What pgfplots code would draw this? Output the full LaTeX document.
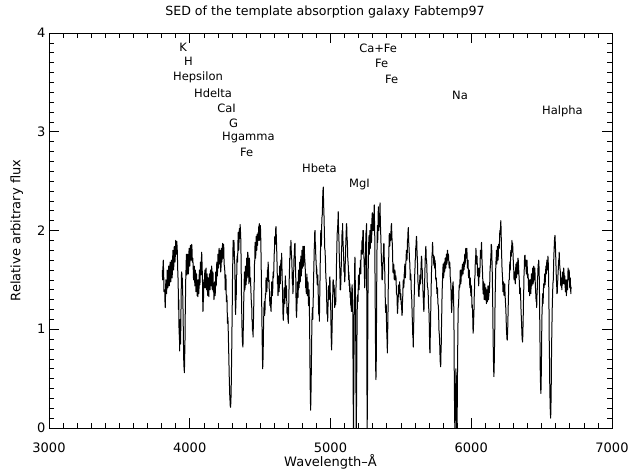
\documentclass[border=0pt]{standalone}
\usepackage{fontspec}
\setmainfont{DejaVu Sans}
\usepackage{pgfplots}
\usepackage{pgfplotstable}
\pgfplotsset{compat=1.18}

% Template absorption galaxy spectrum: wavelength (Angstrom), relative flux
\pgfplotstableread{
lam flux
3805 1.60
3807 1.50
3810 1.64
3812 1.70
3815 1.55
3817 1.38
3820 1.40
3822 1.40
3824 1.28
3826 1.22
3828 1.35
3830 1.50
3833 1.48
3835 1.36
3838 1.44
3840 1.60
3843 1.55
3845 1.42
3848 1.50
3850 1.64
3853 1.58
3855 1.44
3858 1.53
3860 1.68
3863 1.60
3865 1.48
3868 1.56
3870 1.70
3873 1.62
3875 1.52
3878 1.66
3880 1.80
3883 1.72
3885 1.60
3888 1.68
3890 1.84
3893 1.80
3895 1.68
3898 1.76
3900 1.90
3903 1.85
3905 1.76
3908 1.89
3910 1.84
3912 1.78
3914 1.62
3916 1.55
3918 1.45
3920 1.20
3922 1.30
3924 0.95
3926 1.05
3928 0.78
3930 0.95
3932 1.10
3934 0.98
3935 0.85
3937 1.10
3939 1.35
3941 1.55
3943 1.58
3945 1.44
3947 1.52
3949 1.42
3951 1.30
3953 1.12
3955 0.90
3957 0.70
3959 0.62
3962 0.56
3964 0.72
3966 0.85
3968 1.15
3970 1.35
3972 1.55
3974 1.62
3976 1.76
3978 1.68
3980 1.55
3983 1.60
3985 1.76
3988 1.70
3990 1.56
3993 1.65
3995 1.82
3998 1.76
4000 1.64
4003 1.72
4005 1.85
4008 1.80
4010 1.70
4012 1.77
4014 1.86
4016 1.81
4018 1.68
4020 1.70
4022 1.72
4025 1.60
4027 1.50
4030 1.52
4032 1.64
4034 1.58
4036 1.44
4038 1.45
4040 1.60
4042 1.55
4044 1.38
4046 1.40
4048 1.56
4050 1.50
4052 1.34
4054 1.36
4056 1.42
4058 1.33
4060 1.50
4062 1.46
4064 1.36
4066 1.42
4068 1.60
4070 1.58
4072 1.45
4074 1.50
4076 1.68
4078 1.66
4080 1.55
4082 1.60
4084 1.78
4086 1.75
4088 1.62
4090 1.55
4092 1.30
4094 1.18
4096 1.28
4098 1.32
4100 1.50
4102 1.48
4104 1.42
4106 1.56
4108 1.60
4110 1.48
4112 1.42
4114 1.60
4116 1.62
4118 1.44
4120 1.40
4122 1.54
4124 1.56
4126 1.38
4128 1.34
4130 1.50
4132 1.52
4134 1.36
4136 1.33
4138 1.50
4140 1.56
4142 1.42
4144 1.40
4146 1.57
4148 1.60
4150 1.46
4152 1.44
4154 1.60
4156 1.64
4158 1.52
4160 1.40
4162 1.44
4164 1.58
4166 1.56
4168 1.38
4170 1.40
4172 1.30
4174 1.33
4176 1.48
4178 1.46
4180 1.34
4182 1.38
4184 1.58
4186 1.55
4188 1.44
4190 1.50
4192 1.68
4194 1.66
4196 1.54
4198 1.60
4200 1.76
4202 1.74
4204 1.62
4206 1.66
4208 1.82
4210 1.78
4212 1.66
4214 1.70
4216 1.80
4218 1.74
4220 1.58
4222 1.62
4224 1.82
4226 1.80
4228 1.68
4230 1.72
4232 1.84
4234 1.87
4236 1.72
4238 1.76
4240 1.86
4242 1.82
4244 1.66
4246 1.64
4248 1.62
4250 1.55
4252 1.40
4254 1.42
4256 1.55
4258 1.50
4260 1.28
4262 1.30
4264 1.34
4266 1.20
4268 1.06
4270 1.12
4272 1.08
4274 0.95
4276 0.82
4278 0.70
4280 0.55
4282 0.45
4284 0.34
4286 0.28
4288 0.22
4290 0.21
4292 0.26
4294 0.35
4296 0.55
4298 0.75
4300 1.00
4302 1.25
4304 1.55
4306 1.70
4308 1.90
4310 1.85
4312 1.74
4314 1.90
4316 1.80
4318 1.70
4320 1.66
4322 1.45
4324 1.20
4326 1.15
4328 1.30
4330 1.30
4332 1.55
4334 1.55
4336 1.74
4338 1.72
4340 1.68
4342 1.85
4344 1.98
4346 1.95
4348 1.80
4350 1.88
4352 2.02
4354 2.00
4356 1.92
4358 2.06
4360 2.00
4362 1.95
4364 1.78
4366 1.55
4368 1.30
4370 1.10
4372 0.96
4374 0.88
4376 0.84
4378 0.82
4380 0.98
4382 1.10
4384 1.32
4386 1.40
4388 1.58
4390 1.55
4392 1.40
4394 1.46
4396 1.64
4398 1.62
4400 1.45
4402 1.50
4404 1.72
4406 1.70
4408 1.52
4410 1.58
4412 1.78
4414 1.75
4416 1.56
4418 1.62
4420 1.46
4422 1.55
4424 1.72
4426 1.66
4428 1.48
4430 1.48
4432 1.52
4434 1.40
4436 1.34
4438 1.25
4440 1.26
4442 1.10
4444 1.08
4446 0.98
4448 1.00
4450 0.92
4452 1.06
4454 1.15
4456 1.38
4458 1.45
4460 1.66
4462 1.70
4464 1.88
4466 1.85
4468 1.72
4470 1.78
4472 1.94
4474 1.88
4476 1.80
4478 1.96
4480 1.88
4482 1.85
4484 1.96
4486 1.98
4488 1.90
4490 2.04
4492 1.96
4494 2.07
4496 1.90
4498 1.92
4500 2.04
4502 2.05
4504 1.96
4506 1.80
4508 1.60
4510 1.40
4512 1.18
4514 0.95
4516 0.75
4518 0.60
4520 0.66
4522 0.80
4524 1.00
4526 1.15
4528 1.24
4530 1.28
4532 1.14
4535 1.20
4537 1.36
4540 1.35
4542 1.52
4545 1.50
4547 1.38
4550 1.44
4552 1.60
4555 1.58
4557 1.68
4559 1.62
4561 1.48
4563 1.50
4565 1.40
4567 1.38
4569 1.24
4571 1.30
4573 1.32
4576 1.20
4578 1.18
4580 1.32
4582 1.48
4585 1.48
4587 1.34
4590 1.42
4592 1.58
4594 1.52
4596 1.54
4598 1.65
4600 1.76
4602 1.80
4604 1.94
4606 1.92
4608 1.86
4610 1.98
4611 2.02
4613 2.04
4615 1.94
4617 1.85
4619 1.74
4621 1.62
4623 1.46
4625 1.48
4627 1.34
4629 1.40
4631 1.54
4633 1.52
4635 1.38
4637 1.46
4639 1.64
4641 1.60
4643 1.46
4645 1.55
4647 1.70
4649 1.70
4651 1.60
4653 1.77
4655 1.64
4657 1.50
4659 1.40
4661 1.25
4663 1.12
4665 1.09
4667 1.20
4669 1.25
4671 1.42
4673 1.40
4675 1.26
4677 1.35
4679 1.54
4681 1.48
4683 1.32
4685 1.40
4687 1.44
4689 1.30
4691 1.16
4693 1.18
4695 1.22
4697 1.10
4699 1.14
4700 1.06
4702 1.18
4704 1.30
4706 1.48
4708 1.55
4710 1.72
4712 1.70
4714 1.84
4716 1.82
4718 1.80
4719 1.90
4721 1.80
4723 1.75
4725 1.70
4727 1.60
4729 1.46
4731 1.50
4733 1.36
4735 1.42
4737 1.58
4739 1.60
4741 1.74
4743 1.75
4745 1.86
4748 1.87
4750 1.70
4752 1.60
4754 1.46
4755 1.30
4757 1.16
4759 1.12
4761 1.22
4763 1.30
4765 1.48
4767 1.45
4769 1.32
4771 1.40
4773 1.60
4775 1.55
4777 1.42
4779 1.50
4781 1.68
4783 1.63
4785 1.48
4787 1.56
4789 1.74
4791 1.68
4793 1.54
4795 1.62
4797 1.80
4799 1.74
4801 1.62
4802 1.70
4804 1.84
4806 1.78
4808 1.64
4810 1.72
4812 1.84
4814 1.84
4816 1.72
4818 1.70
4820 1.64
4822 1.55
4824 1.42
4826 1.48
4828 1.36
4830 1.44
4832 1.56
4834 1.50
4836 1.34
4838 1.40
4840 1.48
4842 1.36
4844 1.24
4846 1.30
4848 1.40
4849 1.33
4852 1.00
4855 0.50
4857 0.30
4859 0.18
4862 0.40
4864 0.62
4866 0.85
4868 1.08
4870 1.15
4872 1.22
4874 1.10
4876 1.24
4878 1.35
4880 1.54
4882 1.62
4884 1.80
4886 1.85
4888 1.98
4890 2.00
4892 1.86
4894 1.85
4896 1.70
4898 1.70
4900 1.56
4902 1.63
4904 1.52
4906 1.45
4908 1.48
4910 1.55
4912 1.40
4914 1.30
4916 1.16
4918 1.15
4920 1.14
4921 1.08
4923 1.28
4925 1.45
4927 1.66
4929 1.80
4930 1.96
4932 2.00
4934 1.84
4936 1.90
4938 2.08
4940 2.15
4942 2.16
4944 2.30
4946 2.40
4949 2.44
4951 2.26
4953 2.20
4955 2.08
4957 1.95
4959 1.82
4961 1.80
4963 1.74
4965 1.65
4967 1.52
4969 1.50
4971 1.44
4973 1.30
4975 1.16
4977 1.15
4979 1.14
4980 1.08
4982 1.22
4984 1.30
4986 1.44
4988 1.42
4990 1.30
4992 1.38
4994 1.52
4996 1.53
4998 1.38
5000 1.30
5002 1.18
5004 1.00
5006 0.86
5008 0.79
5010 0.92
5012 1.05
5014 1.26
5016 1.35
5018 1.50
5020 1.50
5022 1.38
5024 1.45
5026 1.44
5028 1.35
5030 1.22
5032 1.30
5034 1.26
5037 1.25
5039 1.42
5041 1.50
5043 1.70
5045 1.80
5047 1.96
5049 2.00
5051 2.00
5052 2.10
5054 2.12
5055 2.19
5057 2.02
5059 1.95
5061 1.86
5063 1.70
5065 1.66
5067 1.55
5069 1.40
5072 1.40
5074 1.52
5076 1.60
5078 1.78
5080 1.85
5082 1.98
5083 2.00
5085 1.98
5086 2.07
5088 1.92
5090 1.85
5092 1.80
5094 1.70
5096 1.58
5099 1.60
5101 1.48
5103 1.53
5105 1.68
5107 1.75
5109 1.90
5111 1.95
5113 2.06
5115 2.07
5117 1.94
5119 1.90
5121 1.82
5123 1.70
5125 1.68
5127 1.62
5129 1.50
5131 1.58
5133 1.44
5134 1.50
5136 1.38
5138 1.46
5140 1.32
5142 1.38
5144 1.24
5146 1.30
5148 1.18
5150 1.26
5152 1.42
5154 1.45
5156 1.32
5158 1.20
5161 0.40
5163 -0.10
5166 0.50
5168 1.00
5170 1.40
5172 1.66
5174 1.73
5176 1.48
5178 1.30
5181 0.40
5183 -0.10
5186 0.45
5188 0.90
5190 1.20
5192 1.34
5194 1.35
5196 1.28
5197 1.40
5199 1.54
5201 1.55
5203 1.40
5205 1.48
5207 1.62
5209 1.60
5211 1.58
5213 1.70
5215 1.56
5216 1.65
5218 1.80
5220 1.80
5222 1.78
5224 1.90
5226 1.76
5228 1.85
5230 2.00
5233 2.00
5235 1.82
5237 1.75
5239 1.68
5241 1.55
5243 1.42
5245 1.50
5247 1.66
5249 1.75
5251 1.94
5253 2.00
5255 2.00
5256 2.07
5258 1.20
5260 -0.10
5263 0.40
5266 1.30
5268 1.60
5270 1.75
5272 1.90
5274 1.95
5276 1.76
5278 1.85
5280 2.00
5281 2.00
5283 1.82
5285 1.90
5287 2.06
5289 2.05
5291 1.88
5293 1.95
5295 2.14
5297 2.18
5299 2.02
5301 2.00
5303 2.16
5305 2.15
5307 2.00
5308 2.10
5310 2.24
5311 2.26
5313 2.06
5315 1.90
5316 1.60
5318 1.20
5320 0.80
5321 0.60
5323 0.49
5325 0.66
5326 0.90
5328 1.30
5329 1.60
5331 1.90
5333 2.05
5335 1.88
5337 1.95
5339 2.18
5340 2.24
5342 2.06
5344 2.00
5346 2.10
5348 2.15
5350 2.18
5352 2.28
5354 2.10
5356 2.00
5358 1.92
5360 1.80
5362 1.68
5364 1.65
5366 1.50
5368 1.50
5370 1.58
5372 1.62
5374 1.74
5376 1.75
5378 1.86
5380 1.87
5382 1.72
5384 1.65
5386 1.56
5388 1.40
5390 1.24
5392 1.17
5394 1.24
5396 1.25
5398 1.06
5400 0.95
5402 0.88
5404 0.76
5406 0.94
5408 1.10
5410 1.38
5412 1.55
5414 1.74
5415 1.80
5417 1.94
5418 1.97
5420 1.84
5422 1.85
5424 1.96
5426 1.95
5428 1.90
5430 2.00
5432 2.06
5434 2.07
5436 1.94
5438 1.90
5440 1.84
5442 1.70
5444 1.58
5446 1.57
5448 1.66
5450 1.65
5452 1.52
5454 1.50
5456 1.60
5458 1.60
5460 1.50
5463 1.53
5465 1.54
5467 1.45
5469 1.36
5471 1.35
5473 1.34
5474 1.25
5476 1.16
5477 1.17
5479 1.26
5481 1.30
5483 1.44
5485 1.45
5487 1.36
5489 1.38
5491 1.48
5494 1.40
5496 1.30
5498 1.32
5500 1.36
5502 1.25
5504 1.28
5506 1.20
5508 1.14
5510 1.17
5512 1.30
5514 1.35
5516 1.48
5518 1.50
5520 1.42
5522 1.45
5524 1.56
5526 1.58
5528 1.66
5529 1.63
5531 1.52
5533 1.55
5535 1.68
5537 1.70
5539 1.80
5541 1.80
5543 1.70
5545 1.75
5547 1.90
5549 1.92
5551 2.00
5553 2.03
5555 1.90
5557 1.85
5559 1.80
5561 1.70
5563 1.68
5565 1.60
5566 1.50
5568 1.52
5570 1.56
5572 1.50
5574 1.38
5576 1.35
5578 1.28
5580 1.15
5582 1.08
5584 0.95
5586 0.92
5588 0.82
5590 0.98
5592 1.10
5594 1.30
5596 1.40
5598 1.54
5600 1.60
5602 1.70
5604 1.72
5606 1.84
5608 1.85
5610 1.94
5612 1.94
5614 1.82
5616 1.75
5618 1.68
5620 1.55
5622 1.46
5624 1.45
5626 1.34
5629 1.33
5631 1.42
5633 1.45
5635 1.54
5637 1.55
5639 1.46
5641 1.50
5643 1.62
5644 1.65
5646 1.74
5648 1.73
5650 1.62
5652 1.60
5654 1.48
5656 1.45
5658 1.34
5660 1.30
5662 1.20
5664 1.18
5666 1.32
5668 1.40
5670 1.54
5671 1.60
5673 1.72
5675 1.75
5677 1.84
5678 1.84
5680 1.72
5682 1.70
5684 1.66
5686 1.55
5688 1.44
5690 1.42
5692 1.42
5695 1.33
5697 1.22
5699 1.20
5701 1.12
5703 0.95
5705 0.80
5707 0.76
5709 0.94
5711 1.05
5713 1.26
5715 1.40
5717 1.56
5719 1.62
5721 1.74
5723 1.78
5725 1.88
5726 1.87
5728 1.76
5730 1.75
5732 1.72
5734 1.65
5736 1.74
5738 1.72
5740 1.62
5742 1.70
5744 1.68
5746 1.60
5748 1.50
5750 1.50
5752 1.52
5754 1.45
5756 1.36
5758 1.40
5760 1.42
5761 1.37
5763 1.26
5765 1.25
5767 1.22
5769 1.10
5771 0.98
5773 0.95
5775 0.90
5777 0.80
5779 0.68
5781 0.65
5783 0.62
5785 0.76
5787 0.85
5789 1.06
5791 1.20
5793 1.38
5795 1.45
5797 1.56
5798 1.58
5800 1.66
5801 1.63
5803 1.52
5805 1.55
5807 1.66
5809 1.68
5811 1.58
5813 1.62
5815 1.72
5817 1.72
5819 1.62
5821 1.66
5823 1.76
5825 1.75
5827 1.66
5829 1.70
5831 1.80
5832 1.80
5834 1.70
5836 1.74
5838 1.76
5840 1.70
5843 1.62
5845 1.66
5847 1.68
5849 1.63
5851 1.52
5853 1.50
5855 1.46
5857 1.35
5859 1.22
5861 1.17
5863 1.26
5865 1.30
5867 1.42
5869 1.45
5871 1.48
5873 1.40
5875 1.30
5877 1.10
5880 0.40
5884 -0.10
5888 0.20
5891 0.60
5894 0.30
5897 -0.10
5900 0.10
5903 0.70
5906 1.08
5908 1.25
5910 1.24
5912 1.35
5914 1.44
5916 1.45
5918 1.42
5920 1.50
5922 1.60
5924 1.56
5926 1.46
5928 1.50
5930 1.60
5932 1.58
5934 1.54
5936 1.63
5938 1.66
5940 1.58
5942 1.56
5944 1.65
5946 1.68
5948 1.60
5950 1.62
5952 1.70
5954 1.76
5955 1.68
5957 1.66
5959 1.74
5961 1.82
5963 1.78
5965 1.72
5967 1.80
5969 1.82
5971 1.72
5973 1.62
5975 1.65
5977 1.70
5979 1.60
5981 1.52
5984 1.57
5986 1.60
5988 1.50
5990 1.42
5991 1.50
5993 1.52
5995 1.45
5997 1.34
5999 1.40
6001 1.44
6003 1.37
6005 1.22
6007 1.25
6009 1.20
6011 1.10
6013 0.96
6015 0.99
6017 1.10
6019 1.15
6021 1.32
6023 1.40
6025 1.52
6027 1.55
6029 1.70
6031 1.68
6033 1.82
6035 1.78
6037 1.66
6039 1.72
6041 1.74
6043 1.65
6045 1.54
6047 1.60
6049 1.62
6051 1.50
6053 1.44
6055 1.58
6057 1.62
6059 1.53
6061 1.58
6063 1.65
6065 1.80
6067 1.75
6069 1.72
6071 1.80
6073 1.88
6074 1.84
6076 1.72
6078 1.65
6080 1.58
6082 1.50
6084 1.36
6086 1.42
6088 1.48
6090 1.37
6092 1.30
6094 1.45
6096 1.46
6098 1.35
6100 1.30
6102 1.40
6104 1.42
6106 1.30
6108 1.26
6109 1.28
6111 1.40
6113 1.38
6115 1.28
6117 1.32
6119 1.44
6121 1.42
6123 1.30
6125 1.35
6127 1.44
6128 1.37
6130 1.42
6132 1.50
6134 1.64
6136 1.62
6138 1.70
6140 1.75
6142 1.86
6145 1.84
6147 1.72
6149 1.60
6151 1.42
6153 1.20
6155 0.95
6157 0.75
6159 0.60
6161 0.52
6163 0.62
6165 0.80
6167 1.00
6169 1.25
6171 1.42
6173 1.55
6175 1.68
6177 1.70
6179 1.80
6180 1.78
6182 1.66
6184 1.72
6186 1.84
6188 1.80
6190 1.70
6192 1.74
6194 1.86
6197 1.84
6199 1.82
6201 1.90
6203 2.00
6205 1.98
6207 1.96
6208 2.04
6210 2.10
6211 2.07
6213 1.94
6215 1.80
6217 1.70
6219 1.60
6221 1.56
6223 1.50
6225 1.38
6227 1.45
6229 1.48
6231 1.40
6233 1.34
6236 1.42
6238 1.46
6240 1.37
6242 1.30
6244 1.25
6246 1.20
6248 1.10
6250 1.00
6252 0.95
6254 0.90
6256 0.89
6258 0.96
6260 1.05
6262 1.20
6264 1.30
6266 1.44
6268 1.50
6270 1.50
6272 1.58
6274 1.68
6275 1.63
6277 1.60
6279 1.70
6281 1.80
6283 1.78
6285 1.74
6287 1.82
6289 1.90
6291 1.85
6293 1.82
6294 1.87
6296 1.80
6298 1.72
6300 1.64
6302 1.60
6304 1.50
6306 1.55
6308 1.58
6311 1.50
6313 1.46
6315 1.58
6317 1.66
6319 1.62
6321 1.52
6323 1.55
6325 1.68
6327 1.65
6329 1.56
6330 1.60
6332 1.72
6334 1.70
6336 1.64
6338 1.58
6340 1.52
6342 1.48
6344 1.36
6346 1.40
6348 1.42
6351 1.33
6353 1.22
6355 1.15
6357 1.08
6359 1.00
6361 0.92
6362 0.90
6364 0.88
6365 0.87
6367 0.98
6369 1.10
6371 1.28
6373 1.40
6375 1.56
6377 1.62
6379 1.74
6382 1.75
6384 1.64
6386 1.68
6388 1.70
6390 1.60
6392 1.56
6394 1.65
6396 1.70
6398 1.63
6400 1.52
6402 1.55
6404 1.56
6406 1.48
6408 1.38
6410 1.42
6412 1.50
6413 1.45
6415 1.34
6417 1.40
6419 1.50
6421 1.48
6423 1.36
6425 1.42
6427 1.56
6429 1.55
6431 1.44
6434 1.50
6436 1.62
6438 1.58
6440 1.46
6442 1.52
6444 1.64
6446 1.60
6448 1.50
6450 1.55
6452 1.62
6453 1.57
6455 1.46
6457 1.40
6459 1.34
6461 1.28
6463 1.30
6465 1.22
6467 1.34
6469 1.40
6471 1.52
6473 1.55
6475 1.66
6477 1.62
6479 1.70
6481 1.67
6482 1.58
6484 1.50
6486 1.20
6487 1.05
6489 0.80
6490 0.60
6492 0.46
6493 0.40
6495 0.35
6497 0.48
6498 0.60
6500 0.82
6501 1.00
6503 1.18
6505 1.25
6507 1.36
6508 1.30
6510 1.26
6512 1.33
6514 1.46
6516 1.45
6518 1.42
6520 1.50
6522 1.56
6524 1.45
6526 1.48
6528 1.55
6530 1.64
6531 1.57
6533 1.56
6535 1.62
6537 1.70
6539 1.60
6541 1.62
6543 1.68
6545 1.74
6547 1.68
6549 1.56
6551 1.40
6553 1.12
6554 0.90
6556 0.70
6557 0.50
6559 0.36
6560 0.25
6562 0.16
6564 0.10
6566 0.18
6567 0.30
6569 0.50
6570 0.70
6572 0.92
6574 1.10
6576 1.26
6578 1.35
6580 1.46
6583 1.50
6585 1.62
6586 1.70
6588 1.78
6590 1.85
6592 1.92
6595 1.95
6597 1.88
6599 1.80
6601 1.70
6603 1.60
6605 1.50
6607 1.45
6609 1.36
6611 1.37
6613 1.46
6615 1.50
6617 1.58
6619 1.62
6621 1.70
6623 1.70
6625 1.78
6626 1.74
6628 1.66
6630 1.62
6632 1.60
6634 1.55
6636 1.44
6638 1.48
6640 1.52
6642 1.44
6644 1.40
6646 1.50
6648 1.58
6650 1.55
6652 1.46
6655 1.52
6657 1.62
6659 1.57
6661 1.46
6663 1.50
6665 1.54
6667 1.45
6669 1.38
6671 1.48
6673 1.50
6674 1.40
6676 1.34
6678 1.40
6680 1.50
6682 1.48
6684 1.40
6686 1.52
6688 1.62
6690 1.58
6692 1.50
6694 1.58
6696 1.60
6698 1.48
6700 1.42
6702 1.50
6704 1.52
6706 1.40
6708 1.36
6709 1.43
}\sed

\begin{document}
\begin{tikzpicture}
\useasboundingbox (0,0) rectangle (630pt,472pt);
\begin{axis}[
  at={(49pt,44pt)}, anchor=south west,
  width=563pt, height=395pt, scale only axis,
  xmin=3000, xmax=7000, ymin=0, ymax=4,
  xtick={3000,4000,5000,6000,7000}, ytick={0,1,2,3,4},
  minor x tick num=9, minor y tick num=9,
  tick align=inside,
  major tick length=10pt, minor tick length=5pt,
  every tick/.style={black, line width=0.6pt},
  axis line style={black, line width=0.8pt},
  /pgf/number format/assume math mode=true,
  /pgf/number format/set thousands separator={},
  ticklabel style={font=\fontsize{13}{13}\selectfont},
  xticklabel style={yshift=-11pt},
  xlabel={Wavelength–Å},
  ylabel={Relative arbitrary flux},
  label style={font=\fontsize{13}{13}\selectfont},
  xlabel style={at={(axis description cs:0.5,-0.086)}, anchor=center},
  ylabel style={at={(axis description cs:-0.057,0.5)}, anchor=center},
]
\addplot[black, line width=1.0pt, line join=round] table[x=lam, y=flux] {\sed};

\begin{scope}[every node/.style={anchor=west, font=\fontsize{11.5}{11.5}\selectfont, inner sep=0pt}]
\node at (axis cs:3924,3.86) {K};
\node at (axis cs:3959,3.71) {H};
\node at (axis cs:3881,3.55) {Hepsilon};
\node at (axis cs:4030,3.39) {Hdelta};
\node at (axis cs:4194,3.24) {CaI};
\node at (axis cs:4279,3.09) {G};
\node at (axis cs:4229,2.94) {Hgamma};
\node at (axis cs:4357,2.79) {Fe};
\node at (axis cs:4797,2.63) {Hbeta};
\node at (axis cs:5131,2.47) {MgI};
\node at (axis cs:5203,3.84) {Ca+Fe};
\node at (axis cs:5316,3.69) {Fe};
\node at (axis cs:5387,3.53) {Fe};
\node at (axis cs:5863,3.37) {Na};
\node at (axis cs:6503,3.21) {Halpha};
\end{scope}
\end{axis}
\node[font=\fontsize{12.6}{12.6}\selectfont] at (325pt,460pt) {SED of the template absorption galaxy Fabtemp97};
\end{tikzpicture}
\end{document}
